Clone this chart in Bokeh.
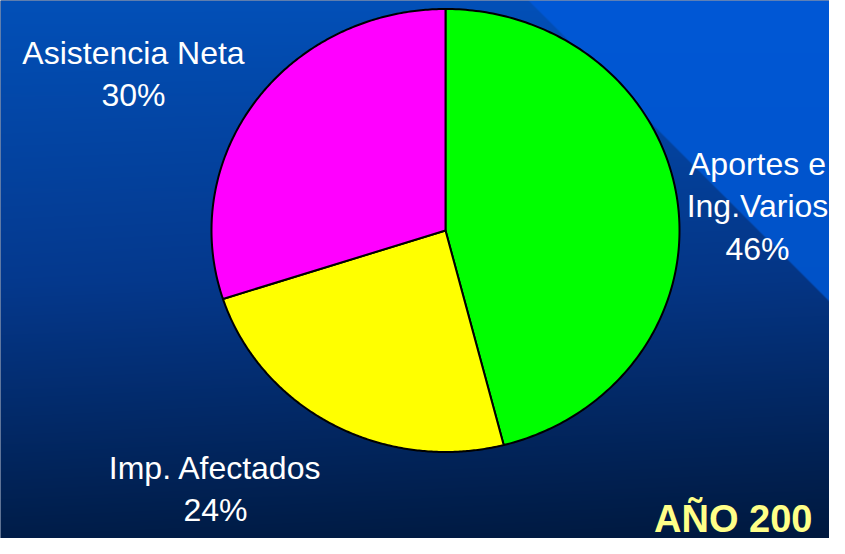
import numpy as np
from bokeh.plotting import figure
from bokeh.models import Range1d, ColumnDataSource
from bokeh.embed import file_html
from bokeh.resources import INLINE
from bokeh.core.properties import value

# ---------------- data ----------------
categories = ["Aportes e Ing.Varios", "Imp. Afectados", "Asistencia Neta"]
label_lines = [["Aportes e", "Ing.Varios"], ["Imp. Afectados"], ["Asistencia Neta"]]
shares = [46, 24, 30]
slice_colors = ["#00ff00", "#ffff00", "#ff00ff"]
title_text = "AÑO 200"

# ---------------- layout (reference pixel coords, y down) ----------------
W, H = 845, 554
FW, FH = 829, 538
CX, CY, RX, RY = 445, 230, 234, 221.5
label_anchor = [(757, 163), (215, 467), (133, 52)]
LINE_STEP = 42.5
FONT = "Liberation Sans"

p = figure(width=FW, height=FH, x_range=Range1d(0, FW), y_range=Range1d(H - FH, H),
           output_backend="svg", toolbar_location=None, min_border=0)
p.axis.visible = False
p.grid.visible = False
p.outline_line_color = None
p.background_fill_color = "#00215a"
p.border_fill_color = "#00215a"

# ---------------- background gradient ----------------
xs = np.arange(W) + 0.5
yr = H - (np.arange(H) + 0.5)
X, Y = np.meshgrid(xs, yr)
stops_y = [0, 280, 554]
r = np.interp(Y, stops_y, [2, 5, 0])
g = np.interp(Y, stops_y, [80, 57, 27])
b = np.interp(Y, stops_y, [184, 142, 68])
shade = 1 - 0.14 * (X / W) * (Y / H)
r, g, b = r * shade, g * shade, b * shade
d = (X - 528) - Y
cov = np.clip(d + 0.5, 0, 1)
br = np.interp(Y, [0, 320], [0, 0])
bg_ = np.interp(Y, [0, 320], [88, 82])
bb = np.interp(Y, [0, 320], [214, 198])
r = r * (1 - cov) + br * cov
g = g * (1 - cov) + bg_ * cov
b = b * (1 - cov) + bb * cov
img = np.empty((H, W), dtype=np.uint32)
view = img.view(dtype=np.uint8).reshape((H, W, 4))
view[:, :, 0] = np.clip(r, 0, 255).astype(np.uint8)
view[:, :, 1] = np.clip(g, 0, 255).astype(np.uint8)
view[:, :, 2] = np.clip(b, 0, 255).astype(np.uint8)
view[:, :, 3] = 255
p.image_rgba(image=[img], x=0, y=0, dw=W, dh=H)

# ---------------- pie (clockwise from top) ----------------
total = float(sum(shares))
cum = np.concatenate([[0], np.cumsum(shares)]) / total * 2 * np.pi
px, py = [], []
for a0, a1 in zip(cum[:-1], cum[1:]):
    th = np.linspace(a0, a1, 200)
    xx = CX + RX * np.sin(th)
    yy = (H - CY) + RY * np.cos(th)
    px.append(np.concatenate([[CX], xx]).tolist())
    py.append(np.concatenate([[H - CY], yy]).tolist())
src = ColumnDataSource(dict(xs=px, ys=py, color=slice_colors, name=categories))
p.patches("xs", "ys", source=src, fill_color="color", line_color="black",
          line_width=2, line_join="round")

# ---------------- labels ----------------
tx, ty, tt = [], [], []
for lines, v, (ax, ay) in zip(label_lines, shares, label_anchor):
    for i, s in enumerate(lines + [f"{v}%"]):
        tx.append(ax)
        ty.append(H - (ay + i * LINE_STEP))
        tt.append(s)
p.text(x=tx, y=ty, text=tt, text_color="white", text_font=value(FONT),
       text_font_size="32px", text_align="center", text_baseline="alphabetic")

p.text(x=[812], y=[H - 518], text=[title_text], text_color="#ffff88",
       text_font=value(FONT), text_font_size="38px", text_font_style="bold",
       text_align="right", text_baseline="alphabetic")

open("out.html", "w").write(file_html(p, INLINE))
